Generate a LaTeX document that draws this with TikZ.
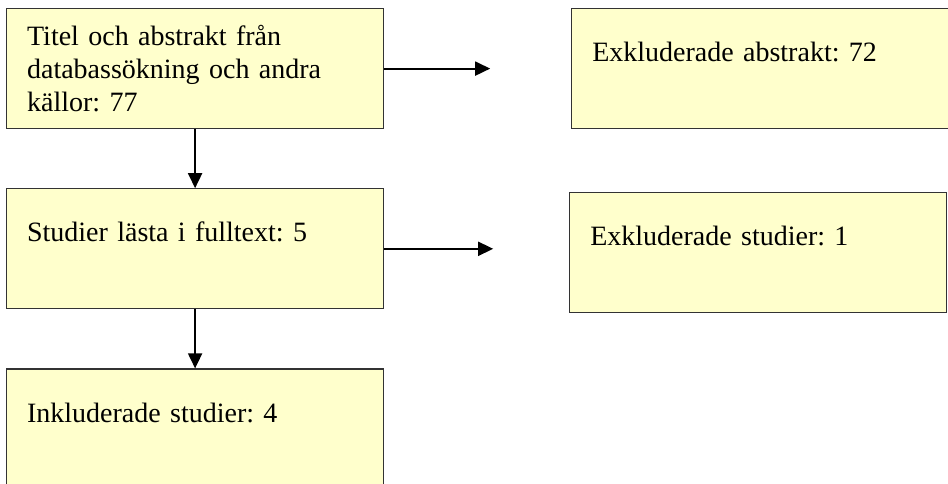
\documentclass[tikz,border=0pt]{standalone}
\usepackage{fontspec}
\setmainfont{Liberation Serif}
\usepackage{tikz}
\usetikzlibrary{positioning}
\usetikzlibrary{arrows.meta}
\definecolor{boxyellow}{HTML}{FFFFCC}
\definecolor{boxline}{HTML}{333333}

\begin{document}
\begin{tikzpicture}[>={Triangle[length=7.5pt,width=7pt]}]
\tikzset{basic/.style={draw=boxline,line width=0.6pt,fill=boxyellow,text width=168pt,inner xsep=10.25pt,inner ysep=0pt,align=left,font=\fontsize{14pt}{16.5pt}\selectfont\frenchspacing}}
\tikzset{oneline/.style={basic,text height=26.5pt,text depth=33.5pt}}
\tikzset{threeline/.style={basic,text height=18.5pt,text depth=41.5pt}}
\tikzset{flow/.style={draw,line width=0.9pt,->}}
    \useasboundingbox (0,0) rectangle (474pt,-241.5pt);
        \node[threeline,anchor=north west] (search) at (3pt,-4pt) {Titel och abstrakt från\\databassökning och andra\\källor: 77};
        \node[oneline,right=93.5pt of search] (exabs) {Exkluderade abstrakt: 72};
        \coordinate[right=53pt of search.east] (toexabs);
            \path[flow] (search.east) -- (toexabs);
        \node[oneline,below=29.5pt of search] (fulltext) {Studier lästa i fulltext: 5};
            \path[flow] (search) -- (fulltext);
        \node[oneline,right=92.5pt of fulltext,yshift=-1.75pt] (exstud) {Exkluderade studier: 1};
        \coordinate[right=54.5pt of fulltext.east] (toexstud);
            \path[flow] (fulltext.east) -- (toexstud);
        \node[oneline,below=29.5pt of fulltext] (incl) {Inkluderade studier: 4};
            \path[flow] (fulltext) -- (incl);
    \end{tikzpicture}
\end{document}
